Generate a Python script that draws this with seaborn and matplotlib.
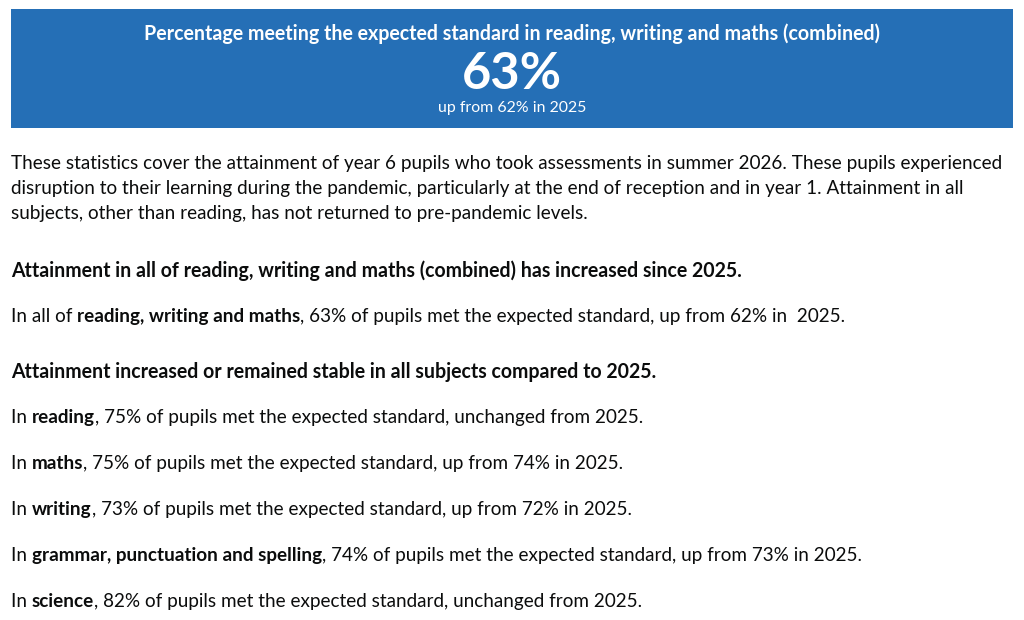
import matplotlib
matplotlib.use("Agg")
import matplotlib.pyplot as plt
from matplotlib.patches import Rectangle
import seaborn as sns

# headline figure
HEADLINE_TITLE = "Percentage meeting the expected standard in reading, writing and maths (combined)"
COMBINED_NOW = 63
COMBINED_PREV = 62
YEAR_NOW = 2026
YEAR_PREV = 2025

# per-subject results
SUBJECTS = ["reading", "maths", "writing", "grammar, punctuation and spelling", "science"]
PCT_NOW = [75, 75, 73, 74, 82]
PCT_PREV = [75, 74, 72, 73, 82]

INTRO = [
    f"These statistics cover the attainment of year 6 pupils who took assessments in summer {YEAR_NOW}. These pupils experienced",
    "disruption to their learning during the pandemic, particularly at the end of reception and in year 1. Attainment in all",
    "subjects, other than reading, has not returned to pre-pandemic levels.",
]
HEAD_1 = f"Attainment in all of reading, writing and maths (combined) has increased since {YEAR_PREV}."
HEAD_2 = f"Attainment increased or remained stable in all subjects compared to {YEAR_PREV}."

BLUE = "#256fb6"
INK = "#0b0c0c"
W, H = 1024, 620

sns.set_theme(style="white")
plt.rcParams["font.family"] = ["Lato", "DejaVu Sans"]

fig = plt.figure(figsize=(W / 100, H / 100), dpi=100)
ax = fig.add_axes([0, 0, 1, 1])
ax.set_xlim(0, W)
ax.set_ylim(H, 0)
ax.axis("off")
renderer = fig.canvas.get_renderer()


def text_width(s, size, weight="normal"):
    # width in px, trailing spaces kept via a sentinel character
    t = ax.text(0, 0, s + "x", fontsize=size, fontweight=weight)
    t2 = ax.text(0, 0, "x", fontsize=size, fontweight=weight)
    w = t.get_window_extent(renderer).width - t2.get_window_extent(renderer).width
    t.remove(); t2.remove()
    return w


def fit_size(s, target_px, weight="normal"):
    return 10 * target_px / text_width(s, 10, weight)


def runs(x, y, parts, size, color=INK):
    for s, bold in parts:
        wt = "bold" if bold else "normal"
        ax.text(x, y, s, fontsize=size, fontweight=wt, color=color, ha="left", va="baseline")
        x += text_width(s, size, wt)


# header banner
ax.add_patch(Rectangle((11, 9), 1002, 119, facecolor=BLUE, edgecolor="none"))
ax.text(512, 40, HEADLINE_TITLE, ha="center", va="baseline", color="white",
        fontsize=fit_size(HEADLINE_TITLE, 737, "bold"), fontweight="bold")
ax.text(512, 89, f"{COMBINED_NOW}%", ha="center", va="baseline", color="white",
        fontsize=fit_size(f"{COMBINED_NOW}%", 100, "bold"), fontweight="bold")
sub = f"up from {COMBINED_PREV}% in {YEAR_PREV}"
ax.text(512, 112, sub, ha="center", va="baseline", color="white",
        fontsize=fit_size(sub, 149))

body = fit_size(INTRO[0], 990)
head = fit_size(HEAD_1, 732, "bold")
off = 7
for i, line in enumerate(INTRO):
    runs(11, 162 + 25 * i + off, [(line, False)], body)

runs(11, 270 + off, [(HEAD_1, True)], head)
runs(11, 315 + off, [("In all of ", False), ("reading, writing and maths", True),
                     (f", {COMBINED_NOW}% of pupils met the expected standard, up from {COMBINED_PREV}% in  {YEAR_PREV}.", False)], body)

runs(11, 371 + off, [(HEAD_2, True)], head)
for i, (subj, now, prev) in enumerate(zip(SUBJECTS, PCT_NOW, PCT_PREV)):
    tail = f"unchanged from {YEAR_PREV}." if now == prev else f"up from {prev}% in {YEAR_PREV}."
    runs(11, 416 + 46 * i + off, [("In ", False), (subj, True),
                                  (f", {now}% of pupils met the expected standard, {tail}", False)], body)

fig.savefig("out.png", dpi=100, facecolor="white")
